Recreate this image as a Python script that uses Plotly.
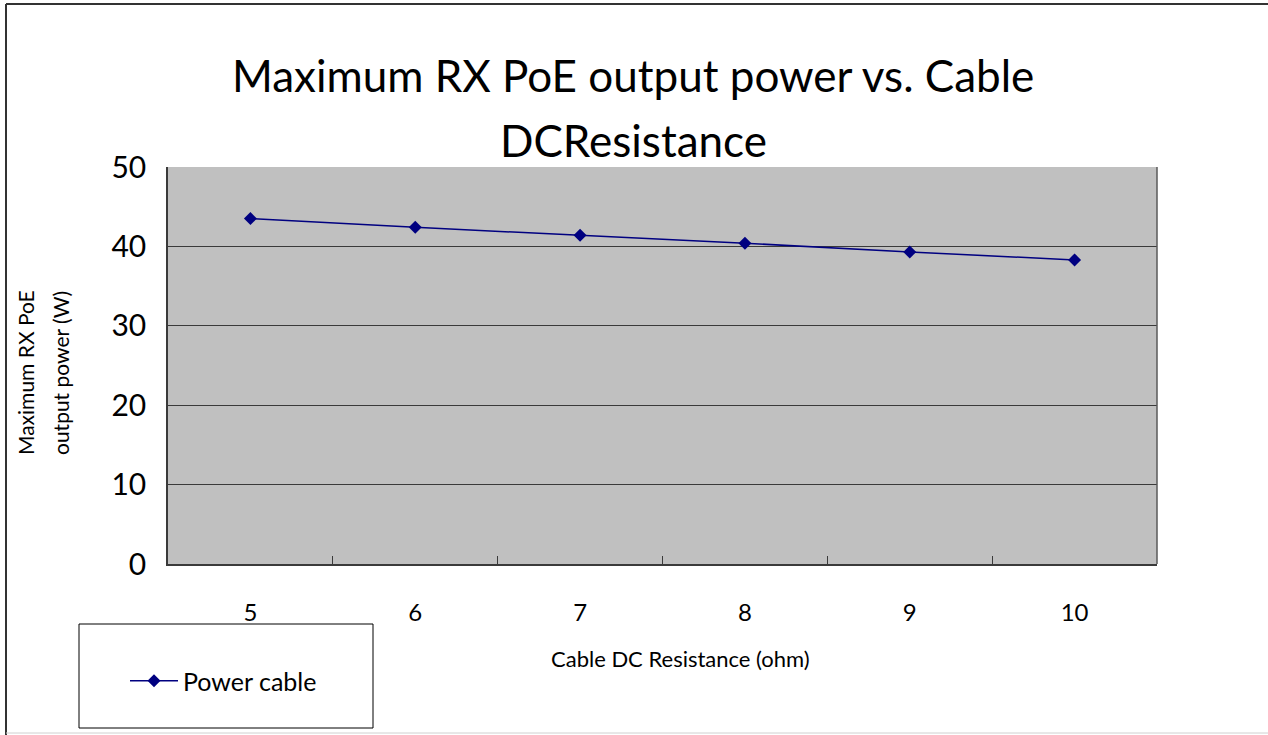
import plotly.graph_objects as go

resistance = [5, 6, 7, 8, 9, 10]
power = [43.5, 42.4, 41.4, 40.4, 39.3, 38.3]
series_name = "Power cable"
y_ticks = [0, 10, 20, 30, 40, 50]
between_ticks = [5.5, 6.5, 7.5, 8.5, 9.5]
title_lines = ["Maximum RX PoE output power vs. Cable", "DCResistance"]
y_title_lines = ["Maximum RX PoE", "output power (W)"]
x_title = "Cable DC Resistance (ohm)"

FONT = "Lato"
W, H = 1268, 735
L, R, T, B = 168, 111, 167, 171
pw = W - L - R
ph = H - T - B

def px(x):
    return (x - L) / pw

def py(y):
    return (H - B - y) / ph

fig = go.Figure()
fig.add_trace(go.Scatter(
    x=resistance, y=power, name=series_name, mode="lines+markers",
    line=dict(color="#000080", width=1.5),
    marker=dict(symbol="diamond", size=10, color="#000080"),
))
# invisible trace to host the between-category tick marks
fig.add_trace(go.Scatter(x=between_ticks, y=[None]*len(between_ticks), xaxis="x2",
                         showlegend=False, hoverinfo="skip"))

fig.update_layout(
    width=W, height=H,
    margin=dict(l=L, r=R, t=T, b=B),
    paper_bgcolor="white", plot_bgcolor="#C0C0C0",
    font=dict(family=FONT, color="black"),
    xaxis=dict(range=[4.5, 10.5], tickvals=resistance, ticktext=[str(v) for v in resistance],
               ticks="", showgrid=False, zeroline=False,
               showline=True, linecolor="#3a3a3a", linewidth=1.5, mirror=False,
               tickfont=dict(size=24), ticklabelstandoff=26),
    xaxis2=dict(range=[4.5, 10.5], overlaying="x", tickvals=between_ticks, ticks="inside",
                ticklen=8, tickcolor="#3a3a3a", showticklabels=False, showgrid=False,
                zeroline=False, side="bottom"),
    yaxis=dict(range=[0, 50], tickvals=y_ticks, ticks="inside", ticklen=10, tickcolor="#3a3a3a",
               showgrid=True, gridcolor="#3a3a3a", gridwidth=1, zeroline=False,
               showline=True, linecolor="#3a3a3a", linewidth=1.5,
               tickfont=dict(size=30), ticklabelstandoff=14),
    showlegend=True,
    legend=dict(x=px(125), y=py(681), xanchor="left", yanchor="middle", itemwidth=48,
                bgcolor="rgba(0,0,0,0)", borderwidth=0, font=dict(size=25)),
)

# right edge of plot area
fig.add_shape(type="line", xref="paper", yref="paper", x0=1, x1=1, y0=0, y1=1,
              line=dict(color="#5a5a5a", width=1.5))
# legend box
fig.add_shape(type="rect", xref="paper", yref="paper", x0=px(79), x1=px(373), y0=py(624), y1=py(728),
              line=dict(color="black", width=1), fillcolor="rgba(0,0,0,0)")
# outer chart border (left and top)
fig.add_shape(type="line", xref="paper", yref="paper", x0=px(6), x1=px(6), y0=py(4), y1=py(735),
              line=dict(color="#333333", width=2))
fig.add_shape(type="line", xref="paper", yref="paper", x0=px(6), x1=px(1268), y0=py(4), y1=py(4),
              line=dict(color="#333333", width=2))
fig.add_shape(type="line", xref="paper", yref="paper", x0=px(6), x1=px(1268), y0=py(733), y1=py(733),
              line=dict(color="#d0d0d0", width=1))

# chart title (two lines, Excel-style spacing)
fig.add_annotation(text=title_lines[0], xref="paper", yref="paper", x=px(633), y=py(75),
                   xanchor="center", yanchor="middle", showarrow=False, font=dict(size=44))
fig.add_annotation(text=title_lines[1], xref="paper", yref="paper", x=px(633), y=py(140),
                   xanchor="center", yanchor="middle", showarrow=False, font=dict(size=44))

fig.add_annotation(text=x_title, xref="paper", yref="paper", xanchor="center", yanchor="middle",
                   x=px(680), y=py(658), showarrow=False, font=dict(size=22))
fig.add_annotation(text=y_title_lines[0], xref="paper", yref="paper", textangle=-90,
                   xanchor="center", yanchor="middle",
                   x=px(25), y=py(373), showarrow=False, font=dict(size=21))
fig.add_annotation(text=y_title_lines[1], xref="paper", yref="paper", textangle=-90,
                   xanchor="center", yanchor="middle",
                   x=px(60), y=py(373), showarrow=False, font=dict(size=21))

fig.write_html("out.html", config={"displayModeBar": False},
               post_script="document.body.style.margin='0';document.body.style.overflow='hidden';")
